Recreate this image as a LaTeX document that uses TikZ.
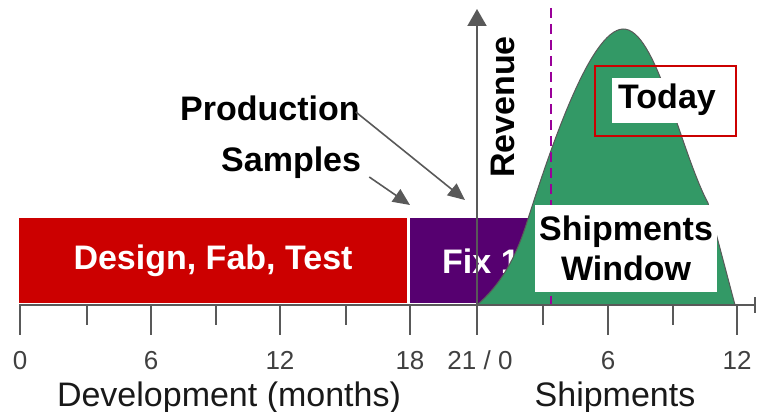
\documentclass[tikz,border=0pt]{standalone}
\usepackage{fontspec}
\setmainfont{Liberation Sans}
\usetikzlibrary{arrows.meta}
\definecolor{axisgray}{HTML}{595959}
\definecolor{devred}{HTML}{CC0000}
\definecolor{fixpurple}{HTML}{560070}
\definecolor{shipgreen}{HTML}{339966}
\definecolor{todaymag}{HTML}{990099}
\tikzset{
  axisline/.style={draw=axisgray, line width=2pt},
  majortick/.style={axisgray, line width=2pt},
  minortick/.style={axisgray, line width=2pt},
  ticklabel/.style={inner sep=0pt, anchor=base, text=black!75, font=\fontsize{26}{30}\selectfont},
  axistitle/.style={inner sep=0pt, anchor=base, text=black!90, font=\fontsize{34}{38}\selectfont},
  boldlabel/.style={inner sep=0pt, font=\fontsize{34}{38}\selectfont\bfseries},
  callout/.style={draw=axisgray, line width=1.6pt, -{Triangle[length=17pt,width=15pt]}},
}
\begin{document}
\begin{tikzpicture}[x=1pt,y=-1pt]
\useasboundingbox (0,0) rectangle (758,412);

% phase bars
\fill[devred] (19,218) rectangle (407,303);
\fill[fixpurple] (410,218) rectangle (530,303);
\node[boldlabel, text=white] (design) at (213,261) {Design, Fab, Test};
\node[boldlabel, text=white, anchor=west] (fix) at (442,261) {Fix 1};

% shipments curve
\filldraw[fill=shipgreen, draw=axisgray, line width=1pt]
  (477,305) .. controls (500,285) and (515,260) .. (527,222)
  .. controls (550,150) and (590,30) .. (623,29)
  .. controls (656,28) and (680,150) .. (708,203)
  -- (735,305) -- cycle;

% today marker
\draw[todaymag, line width=1.5pt, dash pattern=on 10pt off 6pt] (551,8) -- (551,305);

% shipments window label
\fill[white] (535,205) rectangle (717,292);
\node[boldlabel, align=center, text=black, font=\fontsize{34}{40}\selectfont\bfseries]
  (window) at (626,248) {Shipments\\Window};

% today label
\draw[devred, line width=1.5pt] (595,66) rectangle (736,136);
\fill[white] (612,78) rectangle (725,123);
\node[boldlabel] (today) at (667,100) {Today};

% axes
\coordinate (origin) at (477,305);
\coordinate (ytop) at (477,9);
\coordinate (xstart) at (19,305);
\coordinate (xend) at (755,305);
\draw[axisline] (xstart) -- (xend);
\draw[axisgray, line width=2pt] (755,297) -- (755,313);
\draw[axisline, -{Triangle[length=17pt,width=19pt]}] (origin) -- (ytop);
\node[boldlabel, rotate=90] (revenue) at (503,107) {Revenue};

% ticks
\foreach \x in {20,151,280,410,477,608,737}
  \draw[majortick] (\x,305) -- (\x,335);
\foreach \x in {87,216,346,543,673}
  \draw[minortick] (\x,305) -- (\x,325);

\node[ticklabel] (t0) at (20,369) {0};
\node[ticklabel] (t6) at (151,369) {6};
\node[ticklabel] (t12) at (280,369) {12};
\node[ticklabel] (t18) at (410,369) {18};
\node[ticklabel] (t21) at (480,369) {21 / 0};
\node[ticklabel] (s6) at (608,369) {6};
\node[ticklabel] (s12) at (737,369) {12};

\node[axistitle] (devtitle) at (229,406) {Development (months)};
\node[axistitle] (shiptitle) at (615,406) {Shipments};

% milestone callouts
\node[boldlabel, anchor=west] (production) at (180,108) {Production};
\node[boldlabel, anchor=west] (samples) at (221,163) {Samples};
\coordinate (prodtip) at (465,200);
\coordinate (samptip) at (410,205);
\draw[callout] (production.east) ++(-4,4) -- (prodtip);
\draw[callout] (samples.east) ++(8,14) -- (samptip);
\end{tikzpicture}
\end{document}
